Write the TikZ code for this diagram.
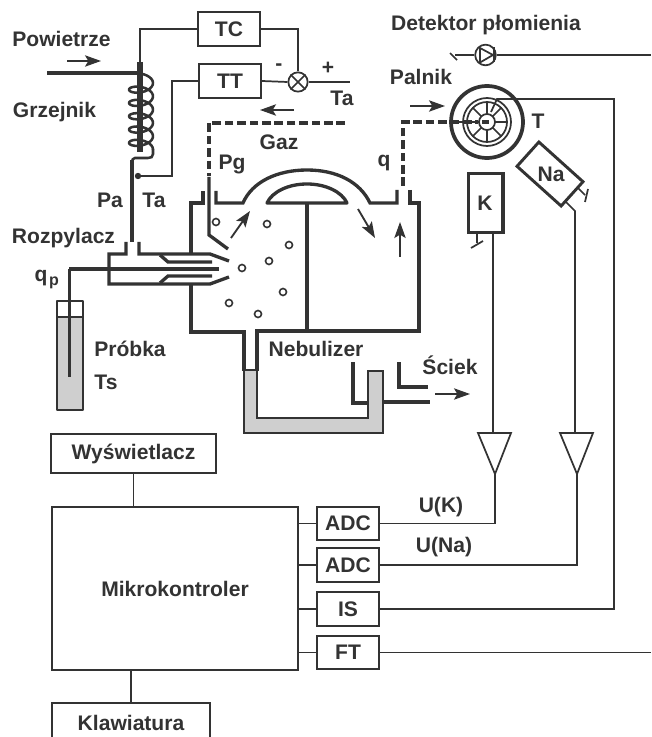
\documentclass[tikz,border=0pt]{standalone}
\usepackage{fontspec}
\setmainfont{Liberation Sans}
\usetikzlibrary{arrows.meta}
\definecolor{ink}{HTML}{333333}
\definecolor{liquid}{HTML}{CFCFCF}
\tikzset{
  thinw/.style={draw=ink,line width=1.3pt},
  medw/.style={draw=ink,line width=1.9pt},
  thickw/.style={draw=ink,line width=2.5pt},
  gasw/.style={draw=ink,line width=2.5pt,dash pattern=on 6.5pt off 2.8pt},
  flow/.style={draw=ink,line width=1.4pt,-{Stealth[length=12pt,width=8.5pt,inset=2.5pt]}},
  lab/.style={inner sep=0pt,text=ink,font=\fontsize{15.8}{18}\selectfont\bfseries},
  blockbox/.style={thinw,fill=white,inner sep=0pt,text=ink,font=\fontsize{15.8}{18}\selectfont\bfseries},
  bubble/.style={draw=ink,line width=1.2pt,fill=white},
}
\begin{document}
\begin{tikzpicture}[x=0.75pt,y=-0.75pt,line cap=butt]
\useasboundingbox (0,0) rectangle (651,737);
\clip (0,0) rectangle (651,737);

% ---- control blocks
\node[blockbox,minimum width=46.5pt,minimum height=25.5pt] (tc) at (229,29) {TC};
\node[blockbox,minimum width=46.5pt,minimum height=25.5pt] (tt) at (230,81) {TT};
\node[thinw,circle,minimum size=14.5pt,inner sep=0pt] (sum) at (298,82) {};
\draw[thinw] (sum.45) -- (sum.225) (sum.135) -- (sum.315);
\coordinate (rodTop) at (140,62);
\coordinate (rodBot) at (140,152);
\coordinate (tapT) at (138,176);
\coordinate (setp) at (350,82);
\draw[thinw] (tc.west) -| (rodTop);
\draw[thinw] (tc.east) -| (sum.north);
\draw[thinw] (tt.east) -- (sum.west);
\draw[thinw] (sum.east) -- (setp);
\draw[thinw] (tt.west) -| (172,176) -- (tapT);
\fill[ink] (tapT) circle[radius=3.2];

% ---- heater
\coordinate (airIn) at (47,73);
\draw[thickw] (airIn) -- (138,73);
\draw[draw=ink,line width=4.6pt] (rodTop) -- (rodBot);
\draw[medw,line join=round] plot[smooth,domain=-90:1800,samples=130] ({141+12*cos(\x)},{83+\x/360*13.3+6*sin(\x)});
\draw[medw] (153,149) -- (153,154) .. controls (153,157) and (151,158) .. (148,158) -- (135,158) .. controls (133,158) and (132,160) .. (132,162);
\draw[thickw] (132,160) -- (132,242);

% ---- nebulizer body
\draw[thickw,line join=miter] (126,242) -- (126,254) -- (109,254) -- (109,284) -- (210,284) -- (229,277);
\draw[thickw,line join=miter] (139,242) -- (139,254) -- (210,254) -- (229,261);
\draw[thickw] (69,269) -- (219,269);
\draw[thickw] (160,255) -- (168,262) -- (212,262);
\draw[thickw] (160,283) -- (168,276) -- (212,276);
\draw[thickw,line join=miter] (191,254) -- (191,203) -- (203,203) -- (203,191);
\draw[thickw,line join=miter] (216,191) -- (216,203) -- (243,203)
   .. controls (252,182) and (277,170) .. (307,170) .. controls (337,170) and (360,182) .. (370,203)
   -- (397,203) -- (397,190);
\draw[thickw,line join=miter] (410,190) -- (410,203) -- (419,203) -- (419,331) -- (257,331) -- (257,371);
\draw[thickw,line join=miter] (191,284) -- (191,332) -- (244,332) -- (244,371);
\draw[thickw] (209,177) -- (209,235) -- (228,249);
\draw[thickw,line join=round] (267,203) .. controls (272,192) and (288,184) .. (307,184) .. controls (326,184) and (342,192) .. (347,203) -- cycle;
\draw[thickw] (307,203) -- (307,331);

% ---- waste trap
\draw[medw,fill=liquid,line join=miter] (244,370) -- (244,433) -- (383,433) -- (383,371) -- (368,371) -- (368,418) -- (257,418) -- (257,370) -- cycle;
\draw[thickw,line join=miter] (353,362) -- (353,403) -- (368,403);
\draw[thickw] (384,402) -- (430,402);
\draw[thickw,line join=miter] (399,362) -- (399,387) -- (428,387);

% ---- gas lines
\draw[gasw] (345,123) -- (209,123) -- (209,176);
\draw[gasw] (403,186) -- (403,122) -- (478,122);

% ---- bubbles
\foreach \p in {(216,222),(267,224),(289,245),(269,261),(242,268),(283,292),(229,303),(258,314)}
  \draw[bubble] \p circle[radius=3.5];

% ---- flow arrows
\draw[flow] (67,61) -- (101,61);
\draw[flow] (294,110) -- (260,110);
\draw[flow] (410,106) -- (445,106);
\draw[flow] (231,238) -- (250,211);
\draw[flow] (358,209) -- (375,238);
\draw[flow] (400,257) -- (400,222);
\draw[flow] (435,394) -- (470,394);

% ---- sample vial
\fill[liquid] (57,317) rectangle (83,410);
\draw[medw,line join=round] (57,301) rectangle (83,410);
\draw[medw] (57,317) -- (83,317);
\draw[thickw] (69.5,269) -- (69.5,377);

% ---- burner
\coordinate (burner) at (487,122);
\draw[draw=ink,line width=2.8pt] (burner) circle[radius=36];
\draw[thinw] (burner) circle[radius=24];
\draw[thinw] (burner) circle[radius=20];
\draw[thinw] (burner) circle[radius=8];
\foreach \a in {0,45,...,315}
  \draw[thinw] ({487+8*cos(\a)},{122+8*sin(\a)}) -- ({487+20*cos(\a)},{122+20*sin(\a)});
\draw[draw=ink,line width=1.8pt] (457,122) -- (476,122);
\draw[draw=ink,line width=2.3pt] (482,122) -- (489,122);

% ---- flame detector
\node[thinw,circle,minimum size=15.5pt,inner sep=0pt] (det) at (485.5,55) {};
\draw[thinw,line join=miter] (480,48) -- (480,62.5) -- (493,55) -- cycle;
\draw[thinw] (494,47.5) -- (494,62.5);
\coordinate (detEnd) at (455,55);
\coordinate (detOut) at (651,55);
\draw[thinw] (det.west) -- (detEnd);
\draw[thinw] (450,53) -- (457,60);
\draw[thinw] (det.east) -- (detOut);

% ---- lamps
\node[draw=ink,line width=2.5pt,minimum width=26pt,minimum height=44pt,inner sep=0pt] (lampK) at (485.5,203) {};
\node[draw=ink,line width=2.2pt,minimum width=44.5pt,minimum height=24.5pt,inner sep=0pt,rotate=-42] (lampNa) at (550,174) {};
\node[lab] at (485,203) {K};
\node[lab] at (551,174) {Na};
\draw[thinw] (477,232) -- (477,243);
\draw[thinw] (471,248) -- (483,241);
\draw[thinw] (577,187) -- (585,195);
\draw[thinw] (588,189) -- (585,202);

% ---- amplifiers
\coordinate (a1w) at (478,433); \coordinate (a1e) at (511,433); \coordinate (a1o) at (495,474);
\coordinate (a2w) at (560,433); \coordinate (a2e) at (593,433); \coordinate (a2o) at (577,474);
\draw[thinw,line join=miter] (a1w) -- (a1e) -- (a1o) -- cycle;
\draw[thinw,line join=miter] (a2w) -- (a2e) -- (a2o) -- cycle;

% ---- electronics
\node[blockbox,minimum width=123.5pt,minimum height=29pt] (wys) at (133.5,453.5) {Wyświetlacz};
\node[blockbox,minimum width=184.5pt,minimum height=122pt] (mk) at (175,588.5) {};
\node[lab] at (175,589) {Mikrokontroler};
\node[blockbox,minimum width=118.5pt,minimum height=36pt] (kl) at (131,727) {};
\node[lab] at (131,723) {Klawiatura};
\node[blockbox,minimum width=46.5pt,minimum height=25pt] (adc1) at (348,523.5) {ADC};
\node[blockbox,minimum width=46.5pt,minimum height=25pt] (adc2) at (348,565) {ADC};
\node[blockbox,minimum width=46.5pt,minimum height=25pt] (is) at (348,609) {IS};
\node[blockbox,minimum width=46.5pt,minimum height=25pt] (ft) at (348,652.5) {FT};
\draw[thinw] (wys.south) -- (wys.south |- mk.north);
\draw[thinw] (kl.north) -- (kl.north |- mk.south);
\draw[thinw] (adc1.west -| mk.east) -- (adc1.west);
\draw[thinw] (adc2.west -| mk.east) -- (adc2.west);
\draw[thinw] (is.west -| mk.east) -- (is.west);
\draw[thinw] (ft.west -| mk.east) -- (ft.west);
\coordinate (ftOut) at (651,652.5);
\draw[thinw] (ft.east) -- (ftOut);
\draw[thinw] (adc1.east) -| (a1o);
\draw[thinw] (adc2.east) -| (a2o);
\draw[thinw] (is.east) -- (614,609) -- (614,99) -- (497,99) -- (491,112);
\draw[thinw] (493,232) -- (493,433);
\draw[thinw] (566,202) -- (575,211) -- (575,433);

% ---- labels
\node[lab] at (61.5,39) {Powietrze};
\node[lab] at (54.5,112) {Grzejnik};
\node[lab] at (486,25) {Detektor płomienia};
\node[lab] at (421,77) {Palnik};
\node[lab] at (538,121) {T};
\node[lab] at (279,142) {Gaz};
\node[lab] at (232,164) {Pg};
\node[lab] at (384,163) {q};
\node[lab] at (110,200) {Pa};
\node[lab] at (154,200) {Ta};
\node[lab] at (342,98) {Ta};
\node[lab] at (279,67) {-};
\node[lab] at (328,68) {+};
\node[lab] at (63.5,238) {Rozpylacz};
\node[lab] at (41,278) {q};
\node[lab,font=\fontsize{12}{14}\selectfont\bfseries] at (54,283) {p};
\node[lab] at (130,349) {Próbka};
\node[lab] at (106,382) {Ts};
\node[lab] at (316,349) {Nebulizer};
\node[lab] at (450,365) {Ściek};
\node[lab] at (441,507) {U(K)};
\node[lab] at (444,547) {U(Na)};
\end{tikzpicture}
\end{document}
